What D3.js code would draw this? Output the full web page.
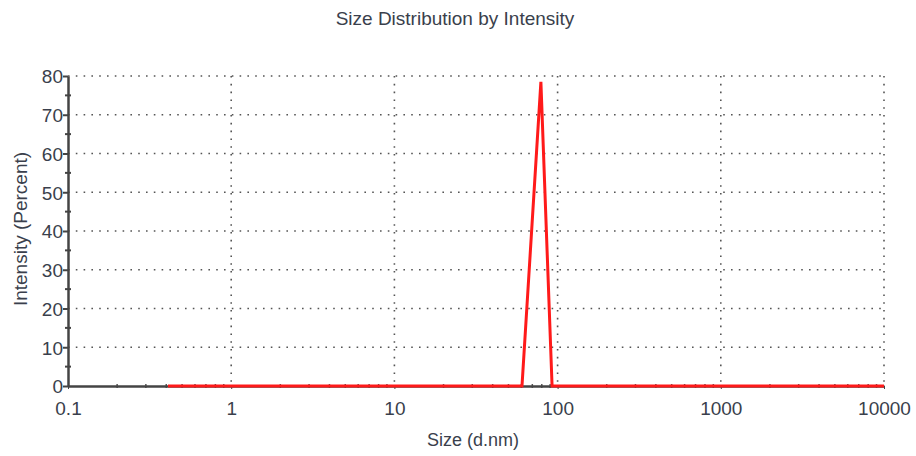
<!DOCTYPE html>
<html lang="en">
<head>
<meta charset="utf-8">
<script src="https://d3js.org/d3.v7.min.js"></script>
<style>
  body { margin: 0; background: #fff; }
  text { font-family: "Liberation Sans", Arial, sans-serif; fill: #3a3f4c; }
  .grid line { stroke: #555; stroke-width: 1.6px; stroke-dasharray: 1.6 6.2; }
  .axis path, .axis line { stroke: #444; }
  .axis text { font-size: 19px; }
</style>
</head>
<body>
<div id="chart"></div>
<script>
var sizes = [0.41, 60.5, 79, 92.5, 10000];
var intensity = [0, 0, 78.5, 0, 0];
var xTicks = [0.1, 1, 10, 100, 1000, 10000];
var yTicks = [0, 10, 20, 30, 40, 50, 60, 70, 80];

var W = 916, H = 456;
var plotL = 68, plotR = 884, plotT = 76, plotB = 386;

var svg = d3.select("#chart").append("svg")
    .attr("width", W).attr("height", H);

var x = d3.scaleLog().domain([0.1, 10000]).range([plotL, plotR]);
var y = d3.scaleLinear().domain([0, 80]).range([plotB, plotT]);

// dotted grid
var grid = svg.append("g").attr("class", "grid");
grid.selectAll(".h").data(yTicks.slice(1)).enter().append("line")
    .attr("x1", plotL).attr("x2", plotR)
    .attr("y1", function(d) { return y(d); }).attr("y2", function(d) { return y(d); });
grid.selectAll(".v").data(xTicks.slice(1)).enter().append("line")
    .attr("y1", plotT).attr("y2", plotB)
    .attr("x1", function(d) { return x(d); }).attr("x2", function(d) { return x(d); });

// minor ticks on x axis
var minors = [];
for (var e = -1; e < 4; e++) for (var k = 2; k < 10; k++) minors.push(k * Math.pow(10, e));
svg.append("g").selectAll("line").data(minors).enter().append("line")
    .attr("x1", function(d) { return x(d); }).attr("x2", function(d) { return x(d); })
    .attr("y1", plotB - 2).attr("y2", plotB + 2)
    .attr("stroke", "#555").attr("stroke-width", 1.5);

// y axis
var yAxis = svg.append("g").attr("class", "axis")
    .attr("transform", "translate(" + plotL + ",0)")
    .call(d3.axisLeft(y).tickValues(yTicks).tickSize(5).tickSizeOuter(0).tickFormat(d3.format("d")));
yAxis.select(".domain").attr("stroke-width", 2.5);
yAxis.selectAll(".tick line").attr("stroke-width", 2);
yAxis.selectAll(".tick text").attr("x", -5).attr("dy", "0.36em");
// minor y ticks
svg.append("g").selectAll("line").data(d3.range(5, 80, 10)).enter().append("line")
    .attr("x1", plotL - 3).attr("x2", plotL + 3)
    .attr("y1", function(d) { return y(d); }).attr("y2", function(d) { return y(d); })
    .attr("stroke", "#444").attr("stroke-width", 2);

// x axis
var xAxis = svg.append("g").attr("class", "axis")
    .attr("transform", "translate(0," + plotB + ")")
    .call(d3.axisBottom(x).tickValues(xTicks).tickSize(3).tickSizeOuter(0)
        .tickFormat(function(d) { return String(d); }));
xAxis.select(".domain").attr("stroke-width", 2.5);
xAxis.selectAll(".tick text").attr("y", 16);

// data line
var pts = sizes.map(function(s, i) { return [s, intensity[i]]; });
svg.append("path").datum(pts)
    .attr("fill", "none").attr("stroke", "#ff1a1a").attr("stroke-width", 3)
    .attr("stroke-linejoin", "miter")
    .attr("d", d3.line().x(function(d) { return x(d[0]); }).y(function(d) { return y(d[1]); }));

// titles
svg.append("text").attr("x", 455).attr("y", 25).attr("text-anchor", "middle")
    .style("font-size", "19px").text("Size Distribution by Intensity");
svg.append("text").attr("x", 473).attr("y", 446).attr("text-anchor", "middle")
    .style("font-size", "18px").text("Size (d.nm)");
svg.append("text").attr("transform", "translate(27,229) rotate(-90)").attr("text-anchor", "middle")
    .style("font-size", "19px").text("Intensity (Percent)");
</script>
</body>
</html>
